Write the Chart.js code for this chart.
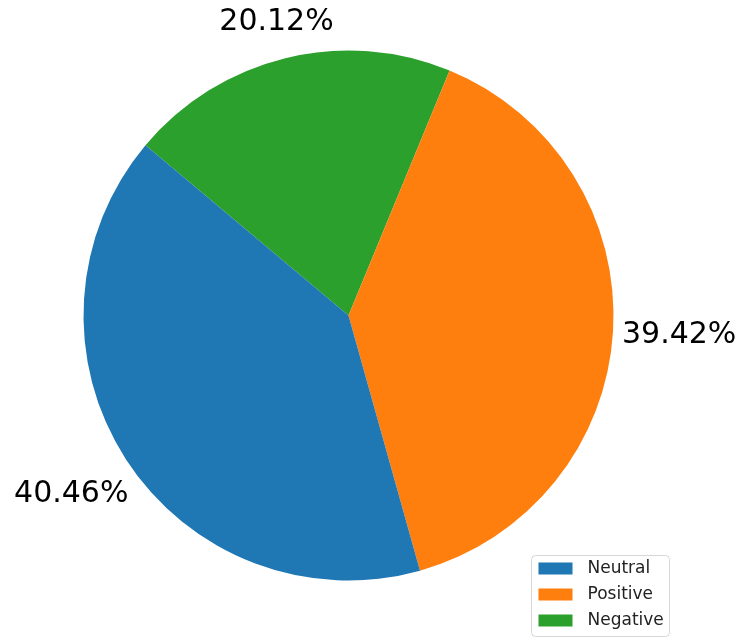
<!DOCTYPE html>
<html>
<head>
<meta charset="utf-8">
<script src="https://cdn.jsdelivr.net/npm/chart.js@4.4.0/dist/chart.umd.min.js"></script>
<style>
    body { margin: 0; background: #fff; }
    canvas { display: block; }
</style>
</head>
<body>
<canvas id="chart1" width="741" height="638"></canvas>
<script>
const categories = ['Neutral', 'Positive', 'Negative'];
const shares = [40.46, 39.42, 20.12];
const colors = ['#1f77b4', '#ff7f0e', '#2ca02c'];
// distance of each percentage label from the centre, in radii
const labelDistance = [1.245, 1.25, 1.14];

// matplotlib goes counter-clockwise, Chart.js clockwise: feed the slices reversed
const order = [2, 1, 0];

const pctLabels = {
    id: 'pctLabels',
    afterDatasetsDraw(chart) {
        const ctx = chart.ctx;
        const meta = chart.getDatasetMeta(0);
        ctx.save();
        ctx.font = '30px "DejaVu Sans"';
        ctx.fillStyle = '#000';
        ctx.textAlign = 'center';
        ctx.textBaseline = 'middle';
        meta.data.forEach((arc, k) => {
            const i = order[k];
            const mid = (arc.startAngle + arc.endAngle) / 2;
            const r = arc.outerRadius * labelDistance[i];
            ctx.fillText(shares[i].toFixed(2) + '%', arc.x + Math.cos(mid) * r, arc.y + Math.sin(mid) * r);
        });
        ctx.restore();
    }
};

const boxLegend = {
    id: 'boxLegend',
    afterDraw(chart) {
        const ctx = chart.ctx;
        const x = 531.5, y = 555.5, w = 138, h = 81;
        ctx.save();
        ctx.beginPath();
        ctx.roundRect(x, y, w, h, 4);
        ctx.fillStyle = 'rgba(255,255,255,0.8)';
        ctx.fill();
        ctx.strokeStyle = '#d6d6d6';
        ctx.lineWidth = 1;
        ctx.stroke();
        ctx.font = '17px "DejaVu Sans"';
        ctx.textBaseline = 'middle';
        categories.forEach((name, i) => {
            const cy = y + 13 + i * 26;
            ctx.fillStyle = colors[i];
            ctx.fillRect(x + 7, cy - 6, 34, 12);
            ctx.fillStyle = '#222';
            ctx.fillText(name, x + 56, cy);
        });
        ctx.restore();
    }
};

var ctx = document.getElementById('chart1').getContext('2d');
var myChart = new Chart(ctx, {
    type: 'pie',
    data: {
        labels: order.map(i => categories[i]),
        datasets: [{
            data: order.map(i => shares[i]),
            backgroundColor: order.map(i => colors[i]),
            borderWidth: 0
        }]
    },
    options: {
        responsive: false,
        animation: false,
        rotation: -50,
        layout: {
            padding: { left: 83.5, right: 127.5, top: 50.5, bottom: 57.5 }
        },
        plugins: {
            legend: { display: false },
            tooltip: { enabled: false }
        }
    },
    plugins: [pctLabels, boxLegend]
});
</script>
</body>
</html>
